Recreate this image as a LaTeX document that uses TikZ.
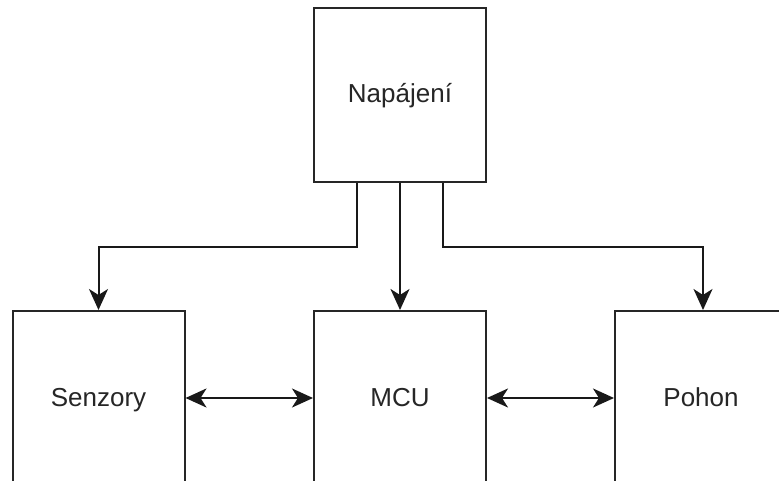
\documentclass[tikz,border=0pt]{standalone}
\usepackage{fontspec}
\setmainfont{Liberation Sans}
\usetikzlibrary{arrows.meta}
\begin{document}
\begin{tikzpicture}[x=1pt,y=-1pt,
  blk/.style={draw=black!85,line width=2pt,minimum width=172pt,minimum height=174pt,inner sep=0pt,
    font=\fontsize{26}{30}\selectfont,text=black!85,text height=18pt,text depth=2pt},
  tip/.tip={Stealth[length=21pt,width=19pt,inset=6pt]},
  arr/.style={draw=black!90,line width=2pt,-tip},
  biarr/.style={draw=black!90,line width=2pt,tip-tip}]
\useasboundingbox (0,0) rectangle (779,481);
\clip (0,0) rectangle (779,481);
\fill[white] (0,0) rectangle (779,481);
\node[blk] (nap) at (400,95) {Napájení};
\node[blk] (sen) at (98.5,398) {Senzory};
\node[blk] (mcu) at (400,398) {MCU};
\node[blk] (poh) at (701,398) {Pohon};
\draw[arr] ([xshift=-43pt]nap.south) -- ++(0,64) -| (sen.north);
\draw[arr] (nap.south) -- (mcu.north);
\draw[arr] ([xshift=43pt]nap.south) -- ++(0,64) -| ([xshift=2pt]poh.north);
\draw[biarr] (sen.east) -- (mcu.west);
\draw[biarr] (mcu.east) -- (poh.west);
\end{tikzpicture}
\end{document}
